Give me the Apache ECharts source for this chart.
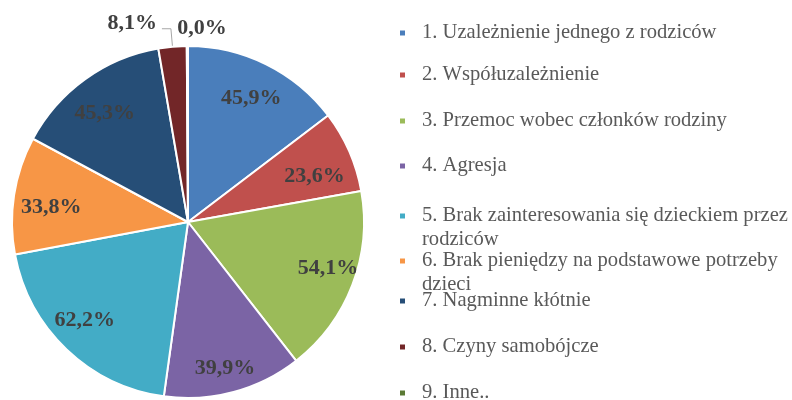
<!DOCTYPE html>
<html>
<head>
<meta charset="utf-8">
<script src="https://cdn.jsdelivr.net/npm/echarts@6/dist/echarts.min.js"></script>
<style>
  html, body { margin: 0; padding: 0; background: #fff; }
  #chart { width: 792px; height: 400px; }
</style>
</head>
<body>
<div id="chart"></div>
<script>
// dane z wykresu
var categories = [
  '1. Uzależnienie jednego z rodziców',
  '2. Współuzależnienie',
  '3. Przemoc wobec członków rodziny',
  '4. Agresja',
  '5. Brak zainteresowania się dzieckiem przez rodziców',
  '6. Brak pieniędzy na podstawowe potrzeby dzieci',
  '7. Nagminne kłótnie',
  '8. Czyny samobójcze',
  '9. Inne..'
];
var values = [45.9, 23.6, 54.1, 39.9, 62.2, 33.8, 45.3, 8.1, 0.0];
var colors = ['#4a7ebb', '#c0504d', '#9bbb59', '#7b64a5', '#43acc6', '#f79646', '#264e77', '#722628', '#5b7a35'];
var legendTops = [33, 75, 121, 166, 213, 258, 301, 347, 393];
// drobne przesuniecia etykiet (jak "najlepsze dopasowanie" w Excelu)
var labelNudge = [[0, 4], [-4, 12], [7, -5], [0, 9], [-5, -5], [4, 7], [0, 7]];

function fmt(v) {
  return v.toFixed(1).replace('.', ',') + '%';
}

var chart = echarts.init(document.getElementById('chart'));

var pieData = categories.map(function (name, i) {
  return { name: name, value: values[i], itemStyle: { color: colors[i] } };
});

// etykiety zewnetrzne tylko dla malych wycinkow
var mainData = pieData.map(function (d, i) {
  var item = { name: d.name, value: d.value, itemStyle: d.itemStyle };
  if (i === 7) {
    item.label = { show: true, position: 'outside' };
    item.labelLine = { show: true, length: 18, length2: 9 };
  } else if (i === 8) {
    item.label = { show: true, position: 'outside' };
    item.labelLine = { show: false, length: 18, length2: 2 };
  }
  return item;
});

var labelData = pieData.map(function (d, i) {
  return {
    name: d.name,
    value: d.value,
    label: { show: i < 7 }
  };
});

var labelFont = {
  fontFamily: 'Liberation Serif',
  fontWeight: 'bold',
  fontSize: 22,
  color: '#404040'
};

// kwadracik u gory dla pozycji dwuwierszowych
var tallIcon = 'path://M0,0h7v7h-7zM0,30.99h0.01v0.01h-0.01z';

// osobna legenda dla kazdej pozycji
var legends = categories.map(function (name, i) {
  var multi = (i === 4 || i === 5);
  return {
    data: [name],
    orient: 'vertical',
    left: 398,
    top: legendTops[i] - (multi ? 9 : 12),
    padding: 0,
    itemWidth: 7,
    itemHeight: multi ? 31 : 7,
    icon: multi ? tallIcon : 'rect',
    selectedMode: false,
    textStyle: {
      fontFamily: 'Liberation Serif',
      fontSize: 20.6,
      color: '#595959',
      lineHeight: 24,
      width: 385,
      overflow: 'break',
      padding: [0, 0, 0, 11]
    }
  };
});

var option = {
  animation: false,
  legend: legends,
  series: [
    {
      type: 'pie',
      center: [188, 222],
      radius: [0, 176],
      startAngle: 90,
      clockwise: true,
      minAngle: 0.4,
      avoidLabelOverlap: false,
      silent: true,
      itemStyle: { borderColor: '#fff', borderWidth: 2 },
      label: Object.assign({
        show: false,
        formatter: function (p) { return fmt(p.value); }
      }, labelFont),
      labelLine: {
        lineStyle: { color: '#a6a6a6', width: 1 }
      },
      labelLayout: function (p) {
        if (p.dataIndex === 8) {
          return { align: 'left', dx: -3 };
        }
        if (p.dataIndex === 7) {
          return { dy: -5 };
        }
        return {};
      },
      data: mainData
    },
    {
      type: 'pie',
      center: [188, 222],
      radius: [103, 176],
      startAngle: 90,
      clockwise: true,
      minAngle: 0.4,
      silent: true,
      legendHoverLink: false,
      itemStyle: { color: 'rgba(0,0,0,0)', borderWidth: 0 },
      label: Object.assign({
        position: 'inside',
        formatter: function (p) { return fmt(p.value); }
      }, labelFont),
      labelLine: { show: false },
      labelLayout: function (p) {
        var n = labelNudge[p.dataIndex] || [0, 0];
        return { dx: n[0], dy: n[1] };
      },
      data: labelData
    }
  ]
};
chart.setOption(option);
</script>
</body>
</html>
